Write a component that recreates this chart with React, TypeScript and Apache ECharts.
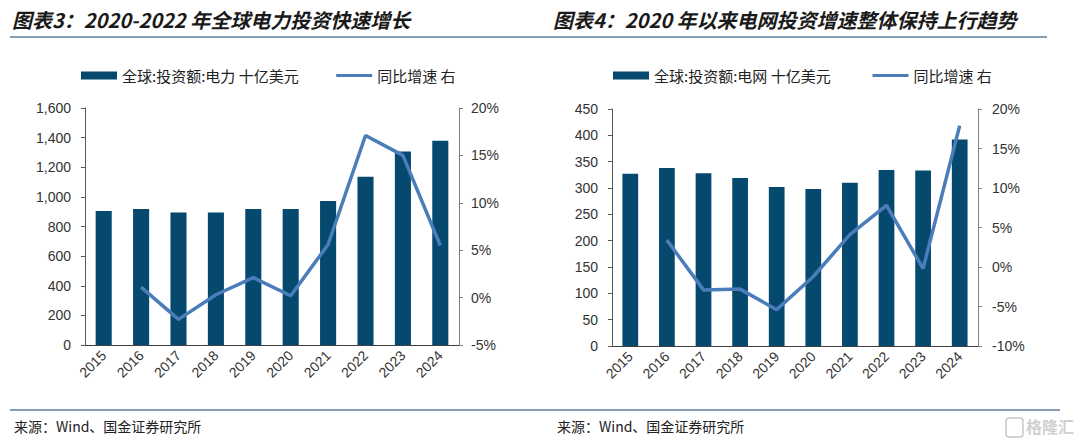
import React, { useEffect, useRef } from "react";
import * as echarts from "echarts";

const years = ["2015", "2016", "2017", "2018", "2019", "2020", "2021", "2022", "2023", "2024"];
const powerInvest = [905, 918, 895, 895, 918, 918, 972, 1136, 1307, 1379];
const powerGrowth = [null, 1.1, -2.3, 0.3, 2.1, 0.2, 5.6, 17.1, 15.0, 5.5];
const gridInvest = [327, 338, 328, 319, 302, 298, 310, 334, 333, 392];
const gridGrowth = [null, 3.4, -2.9, -2.8, -5.4, -1.2, 4.1, 7.8, -0.2, 17.9];

const barName1 = "全球:投资额:电力 十亿美元";
const barName2 = "全球:投资额:电网 十亿美元";
const lineName = "同比增速 右";
const title1 = "图表3：2020-2022 年全球电力投资快速增长";
const title2 = "图表4：2020 年以来电网投资增速整体保持上行趋势";
const sourceText = "来源：Wind、国金证券研究所";

const BAR = "#06496e";
const LINE = "#4a7dba";
const AXIS = "#595959";
const CJK = "'Noto Sans CJK SC', sans-serif";
const LAT = "'Liberation Sans', Arial, sans-serif";

export default function App() {
  const ref = useRef<HTMLDivElement>(null);
  useEffect(() => {
    if (!ref.current) return;
    const chart = echarts.init(ref.current, null, { renderer: "svg" });
    const xAxisBase = (gridIndex: number) => ({
      type: "category",
      gridIndex,
      data: years,
      boundaryGap: true,
      axisLine: { lineStyle: { color: "#404040", width: 1 } },
      axisTick: { inside: true, length: 4, lineStyle: { color: "#404040" } },
      axisLabel: { rotate: 45, fontSize: 14, color: "#333", fontFamily: LAT, margin: 8 },
    });
    const yLeft = (gridIndex: number, max: number, interval: number, comma: boolean) => ({
      type: "value",
      gridIndex,
      min: 0,
      max,
      interval,
      position: "left",
      splitLine: { show: false },
      axisLine: { show: true, lineStyle: { color: AXIS } },
      axisTick: { show: true, length: 4, lineStyle: { color: AXIS } },
      axisLabel: {
        fontSize: 14,
        color: "#333",
        fontFamily: LAT,
        margin: 14,
        formatter: (v: number) => (comma ? v.toLocaleString("en-US") : String(v)),
      },
    });
    const yRight = (gridIndex: number, min: number, margin: number) => ({
      type: "value",
      gridIndex,
      min,
      max: 20,
      interval: 5,
      position: "right",
      splitLine: { show: false },
      axisLine: { show: true, lineStyle: { color: "#808080" } },
      axisTick: { show: true, length: 4, lineStyle: { color: "#808080" } },
      axisLabel: { fontSize: 14, color: "#333", fontFamily: LAT, margin, formatter: "{value}%" },
    });
    const legendBase = {
      orient: "horizontal",
      itemWidth: 36,
      itemHeight: 8,
      itemGap: 36,
      textStyle: { fontSize: 15, color: "#222", fontFamily: CJK },
      selectedMode: false,
    };
    const lineLegendItem = { name: lineName, itemStyle: { opacity: 0 }, lineStyle: { width: 3 } };
    chart.setOption({
      animation: false,
      backgroundColor: "#fff",
      grid: [
        { left: 85, top: 108, width: 374, height: 237 },
        { left: 612, top: 109, width: 366, height: 237 },
      ],
      legend: [
        { ...legendBase, left: 76, top: 63, data: [{ name: barName1, icon: "rect" }, lineLegendItem] },
        { ...legendBase, left: 608, top: 63, data: [{ name: barName2, icon: "rect" }] },
        { ...legendBase, left: 866, top: 63, data: [lineLegendItem] },
      ],
      xAxis: [xAxisBase(0), xAxisBase(1)],
      yAxis: [yLeft(0, 1600, 200, true), yRight(0, -5, 12), yLeft(1, 450, 50, false), yRight(1, -10, 14)],
      series: [
        {
          name: barName1,
          type: "bar",
          xAxisIndex: 0,
          yAxisIndex: 0,
          data: powerInvest,
          barWidth: "43%",
          itemStyle: { color: BAR },
        },
        {
          name: lineName,
          type: "line",
          xAxisIndex: 0,
          yAxisIndex: 1,
          data: powerGrowth,
          symbol: "none",
          lineStyle: { color: LINE, width: 3.5 },
          itemStyle: { color: LINE },
        },
        {
          name: barName2,
          type: "bar",
          xAxisIndex: 1,
          yAxisIndex: 2,
          data: gridInvest,
          barWidth: "43%",
          itemStyle: { color: BAR },
        },
        {
          name: lineName,
          type: "line",
          xAxisIndex: 1,
          yAxisIndex: 3,
          data: gridGrowth,
          symbol: "none",
          lineStyle: { color: LINE, width: 3.5 },
          itemStyle: { color: LINE },
        },
      ],
      graphic: [
        {
          type: "text",
          left: 12,
          top: 9,
          style: { text: title1, font: `italic bold 20px ${CJK}`, fill: "#1a1a1a" },
        },
        {
          type: "text",
          left: 553,
          top: 9,
          style: { text: title2, font: `italic bold 20px ${CJK}`, fill: "#1a1a1a" },
        },
        {
          type: "line",
          shape: { x1: 10, y1: 37, x2: 1047, y2: 37 },
          style: { stroke: "#5e7d99", lineWidth: 1.5 },
        },
        {
          type: "line",
          shape: { x1: 10, y1: 410, x2: 1060, y2: 410 },
          style: { stroke: "#5e7d99", lineWidth: 1.5 },
        },
        {
          type: "text",
          left: 14,
          top: 419,
          style: { text: sourceText, font: `14px ${CJK}`, fill: "#222" },
        },
        {
          type: "text",
          left: 557,
          top: 419,
          style: { text: sourceText, font: `14px ${CJK}`, fill: "#222" },
        },
        {
          type: "rect",
          shape: { x: 1006, y: 418, width: 17, height: 19, r: 3 },
          style: { fill: "none", stroke: "#c8c8c8", lineWidth: 1.5 },
        },
        {
          type: "text",
          left: 1026,
          top: 418,
          style: { text: "格隆汇", font: `bold 16px ${CJK}`, fill: "#d0d0d0" },
        },
      ],
    });
    return () => chart.dispose();
  }, []);
  return (
    <div
      ref={ref}
      style={{ position: "fixed", left: 0, top: 0, width: 1080, height: 443, background: "#fff" }}
    />
  );
}
